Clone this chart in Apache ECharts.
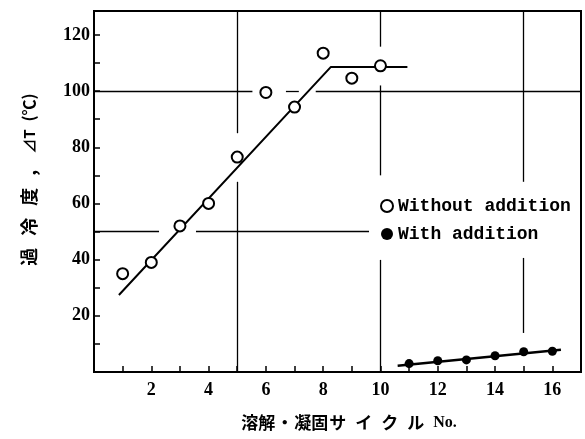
<!DOCTYPE html>
<html>
<head>
<meta charset="utf-8">
<script src="https://cdn.jsdelivr.net/npm/echarts@6/dist/echarts.min.js"></script>
<style>
  html, body { margin: 0; padding: 0; background: #fff; }
  #chart { width: 585px; height: 439px; }
</style>
</head>
<body>
<div id="chart"></div>
<script>
// ---- data ----
const cyclesWithout = [1, 2, 3, 4, 5, 6, 7, 8, 9, 10];
const dtWithout     = [35, 39, 52, 60, 76.5, 99.5, 94.3, 113.5, 104.6, 109];
const fitWithout    = [[0.87, 27.4], [8.27, 108.6], [10.94, 108.6]];

const cyclesWith = [11, 12, 13, 14, 15, 16];
const dtWith     = [3, 4, 4.3, 5.8, 7.2, 7.4];
const fitWith    = [[10.6, 2.2], [16.3, 7.9]];

const xLabels = [2, 4, 6, 8, 10, 12, 14, 16];
const yLabels = [20, 40, 60, 80, 100, 120];

// hand-drawn guide lines of the original (data coordinates)
const guideSegments = [
  [[5, 128.5], [5, 85]], [[5, 67.7], [5, 0]],
  [[10, 128.5], [10, 115.8]], [[10, 102], [10, 70]], [[10, 39.9], [10, 0]],
  [[15, 128.5], [15, 67.7]], [[15, 40.6], [15, 13.9]],
  [[0, 100], [5.53, 100]], [[6.7, 100], [7.15, 100]], [[7.74, 100], [17, 100]],
  [[0, 50], [2.27, 50]], [[3.56, 50], [9.6, 50]]
];

const nameWithout = 'Without addition';
const nameWith = 'With addition';

const chart = echarts.init(document.getElementById('chart'), null, { renderer: 'canvas' });
const tickFont = { fontFamily: 'Liberation Serif', fontWeight: 'bold', fontSize: 18, color: '#000' };
const cjk = 'Noto Sans CJK JP';

chart.setOption({
  backgroundColor: '#fff',
  animation: false,
  grid: { left: 94, right: 4, top: 11, bottom: 67, show: true, borderColor: '#000', borderWidth: 2, backgroundColor: 'transparent' },
  legend: {
    orient: 'vertical',
    left: 375, top: 191,
    itemWidth: 12, itemHeight: 12, itemGap: 8,
    textStyle: { fontFamily: 'Liberation Mono', fontWeight: 'bold', fontSize: 18, color: '#000', lineHeight: 20 },
    data: [
      { name: nameWithout, icon: 'circle', itemStyle: { color: '#fff', borderColor: '#000', borderWidth: 2 } },
      { name: nameWith, icon: 'circle', itemStyle: { color: '#000', borderColor: '#000', borderWidth: 0 } }
    ]
  },
  xAxis: {
    type: 'value', min: 0, max: 17, interval: 1,
    axisLine: { show: true, lineStyle: { color: '#000', width: 2 } },
    axisTick: { show: true, inside: true, length: 6, lineStyle: { color: '#000', width: 1.5 } },
    splitLine: { show: false },
    axisLabel: Object.assign({ margin: 9, formatter: v => xLabels.includes(v) ? String(v) : '' }, tickFont),
    name: '{a|溶解}{b|・}{a|凝固}{k|サ}{k|イ}{k|ク}{k|ル}{n|No.}',
    nameLocation: 'middle', nameGap: 42,
    nameTextStyle: {
      padding: [0, 0, 0, 22],
      rich: {
        a: { fontFamily: cjk, fontWeight: 'bold', fontSize: 17, color: '#000', padding: [0, 1, 0, 1] },
        b: { fontFamily: cjk, fontWeight: 'bold', fontSize: 17, color: '#000', padding: [0, 0, 0, 0] },
        k: { fontFamily: cjk, fontWeight: 'bold', fontSize: 17, color: '#000', padding: [0, 9, 0, 0] },
        n: { fontFamily: 'Liberation Serif', fontWeight: 'bold', fontSize: 16, color: '#000' }
      }
    }
  },
  yAxis: {
    type: 'value', min: 0, max: 128.5, interval: 10,
    axisLine: { show: true, lineStyle: { color: '#000', width: 2 } },
    axisTick: { show: true, inside: true, length: 6, lineStyle: { color: '#000', width: 1.5 } },
    splitLine: { show: false },
    axisLabel: Object.assign({ margin: 4, formatter: v => yLabels.includes(v) ? String(v) : '' }, tickFont),
    name: '{c|過}{c|冷}{c|度}{m|,}{d|⊿T}{f|(℃)}',
    nameLocation: 'middle', nameGap: 56, nameRotate: 90,
    nameTextStyle: {
      padding: [0, 0, 0, 24],
      rich: {
        c: { fontFamily: cjk, fontWeight: 'bold', fontSize: 18, color: '#000', padding: [0, 12, 0, 0] },
        m: { fontFamily: cjk, fontWeight: 'bold', fontSize: 18, color: '#000', padding: [0, 16, 0, 0] },
        d: { fontFamily: cjk, fontWeight: 'bold', fontSize: 15, color: '#000', padding: [0, 8, 0, 0] },
        f: { fontFamily: cjk, fontWeight: 'bold', fontSize: 16, color: '#000' }
      }
    }
  },
  series: [
    {
      name: 'guides', type: 'line', data: [], silent: true,
      markLine: {
        silent: true, symbol: ['none', 'none'], label: { show: false },
        lineStyle: { color: '#000', width: 1.3, type: 'solid' },
        animation: false,
        data: guideSegments.map(s => [{ coord: s[0] }, { coord: s[1] }])
      }
    },
    {
      name: 'fitWithout', type: 'line', data: fitWithout, symbol: 'none', z: 3,
      lineStyle: { color: '#000', width: 2 }
    },
    {
      name: 'fitWith', type: 'line', data: fitWith, symbol: 'none', z: 3,
      lineStyle: { color: '#000', width: 2.5 }
    },
    {
      name: nameWithout, type: 'scatter', z: 5,
      data: cyclesWithout.map((c, i) => [c, dtWithout[i]]),
      symbol: 'circle', symbolSize: 11,
      itemStyle: { color: '#fff', borderColor: '#000', borderWidth: 2, opacity: 1 }
    },
    {
      name: nameWith, type: 'scatter', z: 5,
      data: cyclesWith.map((c, i) => [c, dtWith[i]]),
      symbol: 'circle', symbolSize: 9,
      itemStyle: { color: '#000', opacity: 1 }
    }
  ]
});
</script>
</body>
</html>
